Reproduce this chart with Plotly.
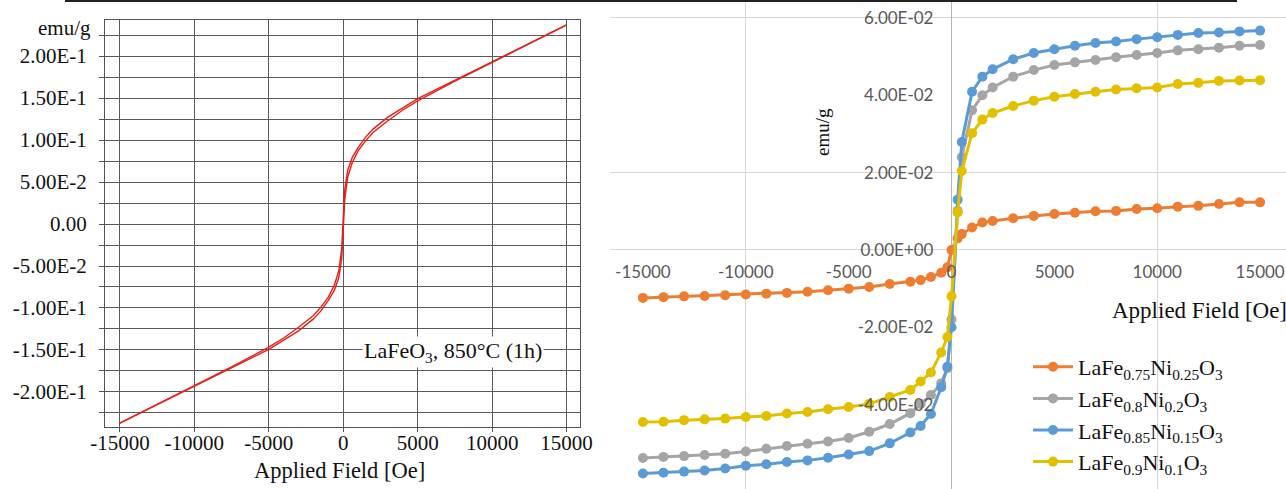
import plotly.graph_objects as go

W, H = 1286, 489

# ---------------- data: left panel (LaFeO3 hysteresis loop) ----------------
left_field_desc = [15000, 12500, 10000, 7500, 5000, 4000, 3000, 2000, 1500, 1000, 600, 300, 100, 0,
                   -100, -300, -600, -1000, -1500, -2000, -3000, -4000, -5000, -7500, -10000, -12500, -15000]
left_m_desc = [0.237, 0.2152, 0.1933, 0.1718, 0.1493, 0.1383, 0.1272, 0.1130, 0.1035, 0.0910, 0.0790, 0.0640, 0.0410, 0.0070,
               -0.0290, -0.0560, -0.0730, -0.0870, -0.0990, -0.1090, -0.1230, -0.1357, -0.1467, -0.1702, -0.1927, -0.2148, -0.237]
left_field_asc = [-15000, -12500, -10000, -7500, -5000, -4000, -3000, -2000, -1500, -1000, -600, -300, -100, 0,
                  100, 300, 600, 1000, 1500, 2000, 3000, 4000, 5000, 7500, 10000, 12500, 15000]
left_m_asc = [-0.237, -0.2152, -0.1933, -0.1718, -0.1493, -0.1383, -0.1272, -0.1130, -0.1035, -0.0910, -0.0790, -0.0640, -0.0410, -0.0070,
              0.0290, 0.0560, 0.0730, 0.0870, 0.0990, 0.1090, 0.1230, 0.1357, 0.1467, 0.1702, 0.1927, 0.2148, 0.237]

left_xticks = [-15000, -10000, -5000, 0, 5000, 10000, 15000]
left_xticktext = ["-15000", "-10000", "-5000", "0", "5000", "10000", "15000"]
left_yticks = [-0.2, -0.15, -0.1, -0.05, 0.0, 0.05, 0.1, 0.15, 0.2]
left_yticktext = ["-2.00E-1", "-1.50E-1", "-1.00E-1", "-5.00E-2", "0.00",
                  "5.00E-2", "1.00E-1", "1.50E-1", "2.00E-1"]

# ---------------- data: right panel (Ni-doped samples) ----------------
right_field = [-15000, -14000, -13000, -12000, -11000, -10000, -9000, -8000, -7000, -6000, -5000, -4000, -3000,
               -2000, -1500, -1000, -500, -200, 0, 300, 500, 1000, 1500, 2000,
               3000, 4000, 5000, 6000, 7000, 8000, 9000, 10000, 11000, 12000, 13000, 14000, 15000]

m_ni025 = [-0.0124, -0.0122, -0.0120, -0.0119, -0.0117, -0.0115, -0.0113, -0.0111, -0.0108, -0.0104, -0.0100, -0.0096, -0.0088,
           -0.0082, -0.0078, -0.0070, -0.0059, -0.0045, 0.0000, 0.0030, 0.0041, 0.0058, 0.0071, 0.0075,
           0.0082, 0.0088, 0.0093, 0.0096, 0.0100, 0.0101, 0.0106, 0.0108, 0.0112, 0.0114, 0.0119, 0.0123, 0.0123]
m_ni020 = [-0.0538, -0.0535, -0.0533, -0.0530, -0.0527, -0.0521, -0.0514, -0.0507, -0.0501, -0.0495, -0.0486, -0.0470, -0.0450,
           -0.0422, -0.0398, -0.0375, -0.0345, -0.0306, -0.0180, 0.0101, 0.0240, 0.0361, 0.0400, 0.0420,
           0.0448, 0.0465, 0.0478, 0.0485, 0.0491, 0.0498, 0.0504, 0.0509, 0.0516, 0.0519, 0.0523, 0.0528, 0.0530]
m_ni015 = [-0.0578, -0.0576, -0.0573, -0.0570, -0.0565, -0.0558, -0.0554, -0.0548, -0.0544, -0.0537, -0.0529, -0.0520, -0.0500,
           -0.0472, -0.0455, -0.0424, -0.0355, -0.0302, -0.0200, 0.0130, 0.0279, 0.0409, 0.0448, 0.0467,
           0.0493, 0.0509, 0.0519, 0.0528, 0.0535, 0.0539, 0.0545, 0.0550, 0.0556, 0.0561, 0.0562, 0.0565, 0.0567]
m_ni010 = [-0.0445, -0.0444, -0.0440, -0.0438, -0.0436, -0.0432, -0.0429, -0.0423, -0.0419, -0.0412, -0.0406, -0.0398, -0.0380,
           -0.0362, -0.0340, -0.0317, -0.0265, -0.0225, -0.0120, 0.0097, 0.0204, 0.0302, 0.0337, 0.0354,
           0.0372, 0.0386, 0.0396, 0.0403, 0.0409, 0.0415, 0.0418, 0.0420, 0.0429, 0.0432, 0.0437, 0.0438, 0.0439]

right_names = ["LaFe<sub>0.75</sub>Ni<sub>0.25</sub>O<sub>3</sub>",
               "LaFe<sub>0.8</sub>Ni<sub>0.2</sub>O<sub>3</sub>",
               "LaFe<sub>0.85</sub>Ni<sub>0.15</sub>O<sub>3</sub>",
               "LaFe<sub>0.9</sub>Ni<sub>0.1</sub>O<sub>3</sub>"]
right_colors = ["#ED7D31", "#A5A5A5", "#5B9BD5", "#E2C000"]

right_xticks = [-15000, -10000, -5000, 0, 5000, 10000, 15000]
right_xticktext = ["-15000", "-10000", "-5000", "0", "5000", "10000", "15000"]
right_yticks = [-0.06, -0.04, -0.02, 0.0, 0.02, 0.04, 0.06]
right_yticktext = ["-6.00E-02", "-4.00E-02", "-2.00E-02", "0.00E+00", "2.00E-02", "4.00E-02", "6.00E-02"]

# ---------------- layout geometry ----------------
SERIF = "Liberation Serif, Times New Roman, serif"
SANS = "Lato, Open Sans, sans-serif"

lx_dom = [105 / W, 580 / W]
ly_dom = [1 - 427 / H, 1 - 20 / H]
lx_rng = [-16000, 15900]
ly_rng = [-0.2417, 0.2429]

rx_dom = [610 / W, 1.0]
ry_dom = [0.0, 1 - 2 / H]
rx_rng = [-16600, 16260]
ry_rng = [-0.0618, 0.0641]

# paper positions of the zero crossings of the right-hand axes
rx_zero_paper = rx_dom[0] + (0 - rx_rng[0]) / (rx_rng[1] - rx_rng[0]) * (rx_dom[1] - rx_dom[0])
ry_zero_paper = ry_dom[0] + (0 - ry_rng[0]) / (ry_rng[1] - ry_rng[0]) * (ry_dom[1] - ry_dom[0])

fig = go.Figure()

# left loop
fig.add_trace(go.Scatter(x=left_field_desc, y=left_m_desc, mode="lines",
                         line=dict(color="#E3201B", width=1.4), showlegend=False,
                         xaxis="x", yaxis="y"))
fig.add_trace(go.Scatter(x=left_field_asc, y=left_m_asc, mode="lines",
                         line=dict(color="#E3201B", width=1.4), showlegend=False,
                         xaxis="x", yaxis="y"))

# right series
for name, col, vals in zip(right_names, right_colors, [m_ni025, m_ni020, m_ni015, m_ni010]):
    fig.add_trace(go.Scatter(x=right_field, y=vals, mode="lines+markers", name=name,
                             line=dict(color=col, width=3),
                             marker=dict(color=col, size=10),
                             xaxis="x2", yaxis="y2"))

grid_dark = "#5a5a5a"
fig.update_layout(
    width=W, height=H,
    margin=dict(l=0, r=0, t=0, b=0, autoexpand=False),
    paper_bgcolor="white", plot_bgcolor="rgba(0,0,0,0)",
    xaxis=dict(domain=lx_dom, range=lx_rng, anchor="y", automargin=False,
               tickmode="array", tickvals=left_xticks, ticktext=left_xticktext,
               showgrid=True, gridcolor=grid_dark, gridwidth=1,
               showline=True, mirror=True, linecolor="#555", linewidth=1,
               ticks="outside", ticklen=4, tickcolor="#555", ticklabelstandoff=-7,
               zeroline=False, tickfont=dict(family=SERIF, size=21, color="#111")),
    yaxis=dict(domain=ly_dom, range=ly_rng, anchor="x", automargin=False,
               tickmode="array", tickvals=left_yticks, ticktext=left_yticktext,
               showgrid=True, gridcolor=grid_dark, gridwidth=1,
               minor=dict(tickmode="linear", tick0=0.025, dtick=0.05, showgrid=True,
                          gridcolor=grid_dark, ticks="outside", ticklen=5, tickcolor="#555"),
               showline=True, mirror=True, linecolor="#555", linewidth=1,
               ticks="outside", ticklen=5, tickcolor="#555", ticklabelstandoff=8,
               zeroline=False, tickfont=dict(family=SERIF, size=21, color="#111")),
    xaxis2=dict(domain=rx_dom, range=rx_rng, anchor="free", position=ry_zero_paper, automargin=False,
                tickmode="array", tickvals=right_xticks, ticktext=right_xticktext,
                showgrid=False, showline=False, ticks="", ticklabelstandoff=10,
                zeroline=True, zerolinecolor="#b4b4b4", zerolinewidth=1,
                minor=dict(tickmode="array", tickvals=[-10000, 10000], showgrid=True,
                           gridcolor="#d6d6d6", gridwidth=1),
                tickfont=dict(family=SANS, size=17, color="#595959")),
    yaxis2=dict(domain=ry_dom, range=ry_rng, anchor="free", position=rx_zero_paper, automargin=False,
                tickmode="array", tickvals=right_yticks, ticktext=right_yticktext,
                showgrid=False, showline=False, ticks="", ticklabelstandoff=18,
                zeroline=True, zerolinecolor="#d6d6d6", zerolinewidth=1,
                minor=dict(tickmode="array", tickvals=[0.02, 0.06], showgrid=True,
                           gridcolor="#d6d6d6", gridwidth=1),
                tickfont=dict(family=SANS, size=17, color="#595959")),
    legend=dict(x=1028 / W, y=1 - 346 / H, xanchor="left", yanchor="top",
                bgcolor="rgba(0,0,0,0)", font=dict(family=SERIF, size=22, color="#111"),
                itemwidth=40),
    shapes=[dict(type="line", xref="paper", yref="paper", x0=65 / W, x1=1237 / W,
                 y0=1 - 1 / H, y1=1 - 1 / H, line=dict(color="#222", width=2))],
    annotations=[
        dict(text="emu/g", xref="paper", yref="paper", x=93 / W, y=1 - 28 / H,
             xanchor="right", yanchor="middle", showarrow=False,
             font=dict(family=SERIF, size=21, color="#111")),
        dict(text="Applied Field [Oe]", xref="paper", yref="paper", x=340 / W, y=1 - 470 / H,
             xanchor="center", yanchor="middle", showarrow=False,
             font=dict(family=SERIF, size=22.5, color="#111")),
        dict(text="LaFeO<sub>3</sub>, 850°C (1h)", xref="paper", yref="paper", x=453 / W, y=1 - 352 / H,
             xanchor="center", yanchor="middle", showarrow=False, bgcolor="white",
             font=dict(family=SERIF, size=22, color="#111")),
        dict(text="emu/g", xref="paper", yref="paper", x=822 / W, y=1 - 132 / H,
             xanchor="center", yanchor="middle", showarrow=False, textangle=-90,
             font=dict(family=SERIF, size=19, color="#111")),
        dict(text="Applied Field [Oe]", xref="paper", yref="paper", x=1110 / W, y=1 - 310 / H,
             xanchor="left", yanchor="middle", showarrow=False,
             font=dict(family=SERIF, size=23, color="#111")),
    ],
)

fig.write_html("out.html")
